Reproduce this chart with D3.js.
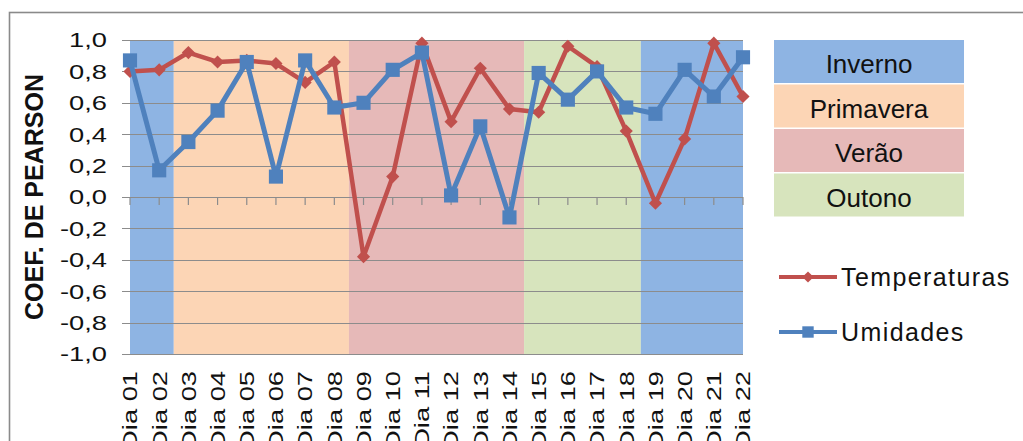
<!DOCTYPE html>
<html>
<head>
<meta charset="utf-8">
<script src="https://cdn.jsdelivr.net/npm/d3@7"></script>
<style>
  body { margin: 0; background: #fff; }
  svg { display: block; font-family: Arial, "Liberation Sans", sans-serif; }
</style>
</head>
<body>
<div class="figure"></div>
<script>
// chart values
const days = ["Dia 01","Dia 02","Dia 03","Dia 04","Dia 05","Dia 06","Dia 07","Dia 08","Dia 09","Dia 10","Dia 11",
              "Dia 12","Dia 13","Dia 14","Dia 15","Dia 16","Dia 17","Dia 18","Dia 19","Dia 20","Dia 21","Dia 22"]
const temperaturas = [0.80, 0.81, 0.92, 0.86, 0.87, 0.85, 0.73, 0.86, -0.38, 0.13, 0.98,
                      0.48, 0.82, 0.56, 0.54, 0.96, 0.83, 0.42, -0.04, 0.37, 0.98, 0.64]
const umidades = [0.87, 0.17, 0.35, 0.55, 0.86, 0.13, 0.87, 0.57, 0.60, 0.81, 0.92,
                  0.01, 0.45, -0.13, 0.79, 0.62, 0.80, 0.57, 0.53, 0.81, 0.64, 0.89]
const daySeason = ["Inverno","Inverno","Primavera","Primavera","Primavera","Primavera","Primavera","Primavera",
                   "Verão","Verão","Verão","Verão","Verão","Verão","Outono","Outono","Outono","Outono",
                   "Inverno","Inverno","Inverno","Inverno"]
const seasons = ["Inverno","Primavera","Verão","Outono"]
const yTicks = [-1.0, -0.8, -0.6, -0.4, -0.2, 0.0, 0.2, 0.4, 0.6, 0.8, 1.0]

const width = 1023
const height = 441

const seasonColor = d3.scaleOrdinal(seasons, ["#8EB4E3", "#FCD5B5", "#E6B9B8", "#D7E4BD"])
const red = "#C0504D"
const blue = "#4F81BD"

const svg = d3.select(".figure").append("svg")
    .attr("width", width)
    .attr("height", height)

const x = d3.scalePoint().domain(days).range([130, 743])
const y = d3.scaleLinear().domain([-1, 1]).range([354, 40])
const step = x.step()

// chart area border
svg.append("rect")
    .attr("x", 9.5).attr("y", 12.5)
    .attr("width", 1100).attr("height", 600)
    .attr("fill", "none")
    .attr("stroke", "#8a8a8a")
    .attr("stroke-width", 1.6)

// season bands, built from consecutive runs of the same season
let runs = []
daySeason.forEach((s, i) => {
    if (runs.length && runs[runs.length - 1].season === s) runs[runs.length - 1].end = i
    else runs.push({season: s, start: i, end: i})
})

svg.append("g")
    .selectAll("rect")
    .data(runs)
    .join("rect")
    .attr("x", d => d.start === 0 ? x(days[0]) : x(days[d.start]) - step / 2)
    .attr("width", d => {
        let x0 = d.start === 0 ? x(days[0]) : x(days[d.start]) - step / 2
        let x1 = d.end === days.length - 1 ? x(days[d.end]) : x(days[d.end]) + step / 2
        return x1 - x0
    })
    .attr("y", y(1))
    .attr("height", y(-1) - y(1))
    .attr("fill", d => seasonColor(d.season))

// gridlines + y labels
const fmt = d => (Math.abs(d) < 1e-9 ? 0 : d).toFixed(1).replace(".", ",")

svg.append("g")
    .selectAll("line")
    .data(yTicks)
    .join("line")
    .attr("x1", 122).attr("x2", 743)
    .attr("y1", d => Math.round(y(d)) + 0.5)
    .attr("y2", d => Math.round(y(d)) + 0.5)
    .attr("stroke", "#8c8c8c")
    .attr("stroke-width", 1.2)

svg.append("g")
    .selectAll("text")
    .data(yTicks)
    .join("text")
    .attr("transform", d => `translate(107,${y(d)}) scale(1.3,1)`)
    .attr("text-anchor", "end")
    .attr("dy", "0.35em")
    .attr("font-size", 21)
    .attr("fill", "#111")
    .text(fmt)

// x axis at zero with tick marks
svg.append("g")
    .selectAll("line")
    .data(days)
    .join("line")
    .attr("x1", d => x(d)).attr("x2", d => x(d))
    .attr("y1", y(0)).attr("y2", y(0) + 8)
    .attr("stroke", "#8c8c8c")
    .attr("stroke-width", 1.2)

svg.append("g")
    .selectAll("text")
    .data(days)
    .join("text")
    .attr("transform", d => `translate(${x(d)},371) rotate(-90) scale(1.3,1)`)
    .attr("text-anchor", "end")
    .attr("dy", "0.35em")
    .attr("font-size", 21)
    .attr("fill", "#111")
    .text(d => d)

// axis title
svg.append("text")
    .attr("transform", "translate(43,197) rotate(-90)")
    .attr("text-anchor", "middle")
    .attr("font-size", 25)
    .attr("font-weight", "bold")
    .attr("fill", "#111")
    .text("COEF. DE PEARSON")

// series
const line = d3.line().x((d, i) => x(days[i])).y(d => y(d))
const diamond = d3.symbol().type(d3.symbolDiamond2).size(110)
const square = d3.symbol().type(d3.symbolSquare).size(200)

svg.append("path")
    .datum(temperaturas)
    .attr("fill", "none")
    .attr("stroke", red)
    .attr("stroke-width", 4.5)
    .attr("stroke-linejoin", "round")
    .attr("d", line)

svg.append("g")
    .selectAll("path")
    .data(temperaturas)
    .join("path")
    .attr("transform", (d, i) => `translate(${x(days[i])},${y(d)})`)
    .attr("fill", red)
    .attr("d", diamond)

svg.append("path")
    .datum(umidades)
    .attr("fill", "none")
    .attr("stroke", blue)
    .attr("stroke-width", 5)
    .attr("stroke-linejoin", "round")
    .attr("d", line)

svg.append("g")
    .selectAll("path")
    .data(umidades)
    .join("path")
    .attr("transform", (d, i) => `translate(${x(days[i])},${y(d)})`)
    .attr("fill", blue)
    .attr("d", square)

// season legend
const seasonLegend = svg.append("g")
    .selectAll("g")
    .data(seasons)
    .join("g")
    .attr("transform", (d, i) => `translate(774,${40 + i * 44.5})`)

seasonLegend.append("rect")
    .attr("width", 190)
    .attr("height", 43)
    .attr("fill", d => seasonColor(d))

seasonLegend.append("text")
    .attr("x", 95)
    .attr("y", 33)
    .attr("text-anchor", "middle")
    .attr("font-size", 26)
    .attr("fill", "#111")
    .text(d => d)

// series legend
const series = [
    {name: "Temperaturas", color: red, symbol: d3.symbol().type(d3.symbolDiamond2).size(80)},
    {name: "Umidades", color: blue, symbol: d3.symbol().type(d3.symbolSquare).size(130)}
]

const serLegend = svg.append("g")
    .selectAll("g")
    .data(series)
    .join("g")
    .attr("transform", (d, i) => `translate(779,${277 + i * 55})`)

serLegend.append("line")
    .attr("x1", 0).attr("x2", 58)
    .attr("stroke", d => d.color)
    .attr("stroke-width", 4)

serLegend.append("path")
    .attr("transform", "translate(29,0)")
    .attr("fill", d => d.color)
    .attr("d", d => d.symbol())

serLegend.append("text")
    .attr("x", 62)
    .attr("dy", "0.35em")
    .attr("font-size", 25)
    .attr("letter-spacing", 1.4)
    .attr("fill", "#111")
    .text(d => d.name)
</script>
</body>
</html>
